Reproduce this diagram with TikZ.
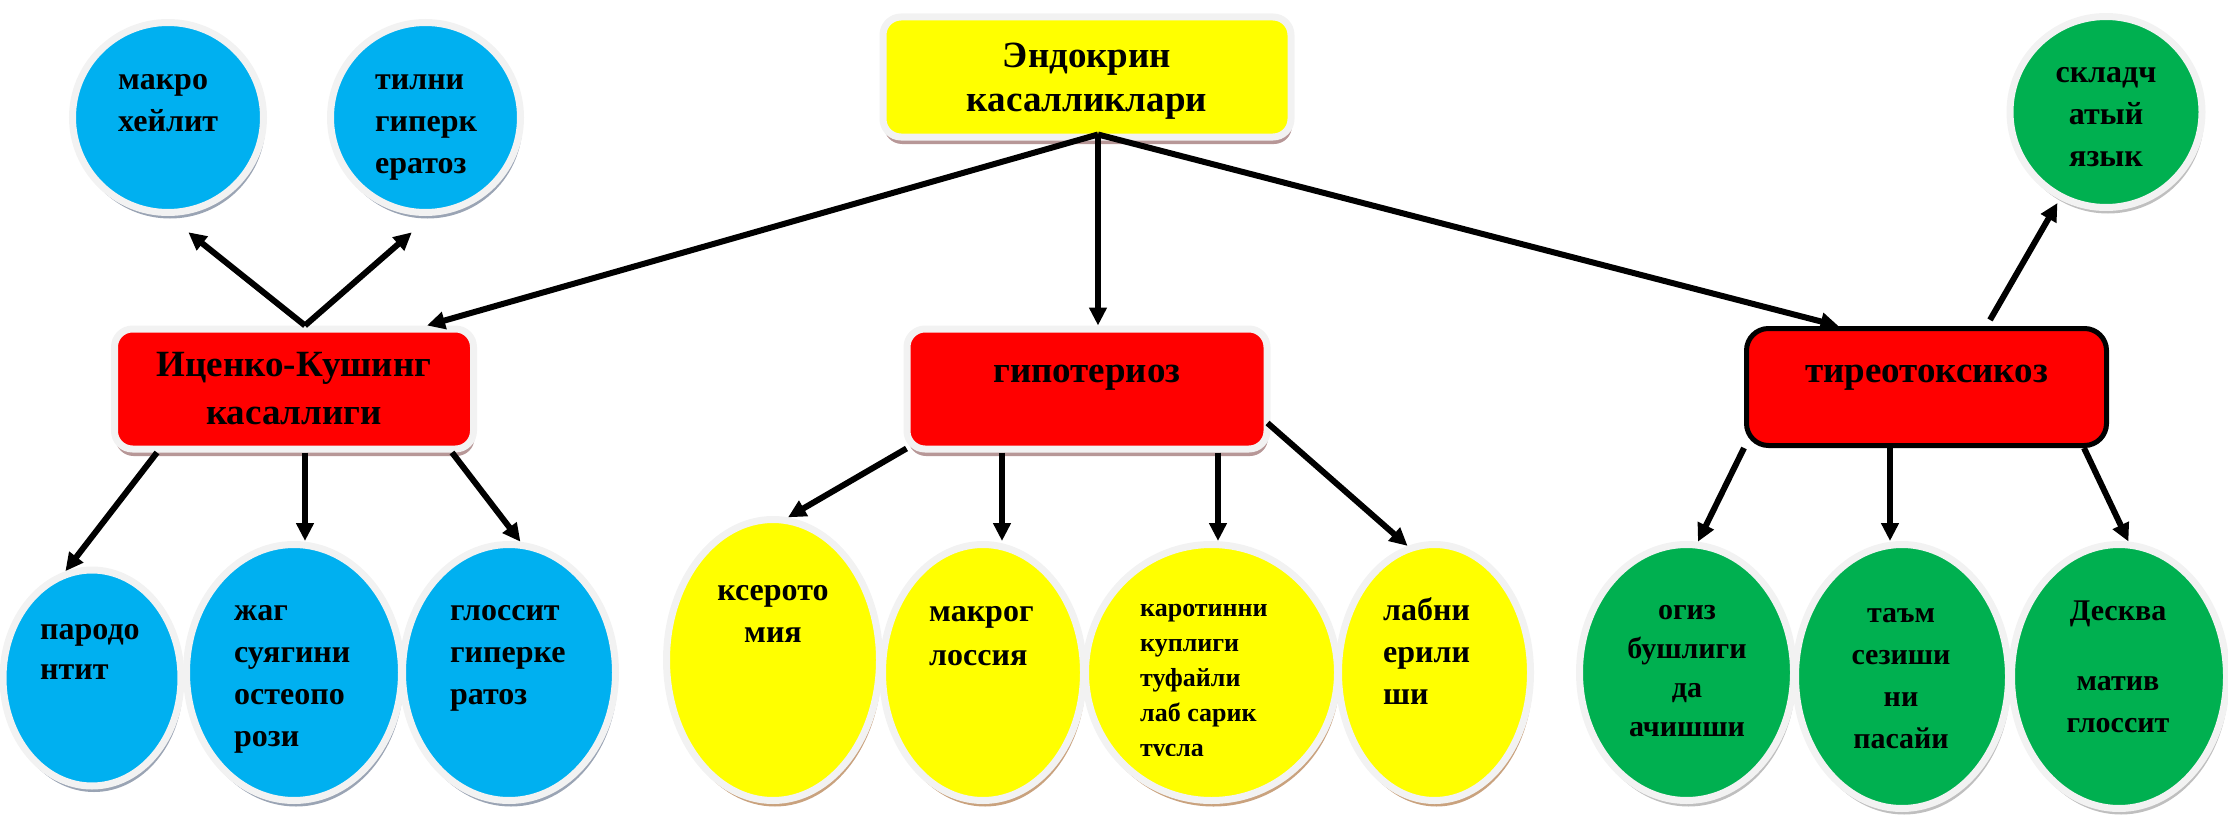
\documentclass[tikz,border=0pt]{standalone}
\usepackage{fontspec}
\setmainfont{Liberation Serif}
\usetikzlibrary{shapes.geometric, arrows.meta, shadows, calc}
\definecolor{skyblue}{HTML}{00B0F0}
\definecolor{lemon}{HTML}{FFFF00}
\definecolor{boxred}{HTML}{FF0000}
\definecolor{leaf}{HTML}{00B050}
\definecolor{ringgray}{HTML}{F2F2F2}
\definecolor{shblue}{HTML}{9AA4B4}
\definecolor{shtan}{HTML}{C9A27E}
\definecolor{shrose}{HTML}{B79797}
\definecolor{shgray}{HTML}{BFBFBF}

\begin{document}
\begin{tikzpicture}[x=1pt,y=-1pt,
	ring/.style={draw=ringgray,line width=7pt},
	blob/.style 2 args={ellipse,ring,inner sep=0pt,fill=#1,
		drop shadow={shadow xshift=2pt,shadow yshift=-6pt,fill=#2,opacity=1}},
	blue blob/.style={blob={skyblue}{shblue}},
	yellow blob/.style={blob={lemon}{shtan}},
	green blob/.style={blob={leaf}{shgray}},
	dims/.style 2 args={minimum width=#1pt,minimum height=#2pt},
	boxnode/.style={rectangle,rounded corners=18pt,ring,fill=boxred,align=center,inner sep=0pt,
		font=\bfseries\fontsize{37}{48}\selectfont,
		drop shadow={shadow xshift=1pt,shadow yshift=-7pt,fill=shrose,opacity=1}},
	lbl/.style={inner sep=0pt,align=left,anchor=north west,
		font=\bfseries\fontsize{32}{42}\selectfont},
	lblc/.style={lbl,align=center,anchor=north},
	arr/.style={line width=6pt,-{Triangle[length=18pt,width=17pt]}}]
	\useasboundingbox (0,0) rectangle (2228,816);

	\node[boxnode,fill=lemon,dims={408}{120},font=\bfseries\fontsize{37}{44}\selectfont,text height=76pt] (endo) at (1087,77) {Эндокрин\\касалликлари};
	\node[boxnode,dims={359}{120}] (icenko) at (294,389) {Иценко-Кушинг\\касаллиги};
	\node[boxnode,dims={360}{120},text height=17pt,text depth=30pt] (hypo) at (1087,389) {гипотериоз};
	\node[rectangle,rounded corners=22pt,draw=black,line width=5pt,fill=boxred,dims={360}{117},inner sep=0pt,
		font=\bfseries\fontsize{37}{48}\selectfont,text height=17pt,text depth=26pt] (tireo) at (1926.5,387) {тиреотоксикоз};

	\node[blue blob,dims={191}{190}] (makro) at (168,117.5) {};
	\node[lbl] (makro-t) at (118,59.9) {\strut макро\\хейлит};
	\node[blue blob,dims={190}{190}] (tilni) at (425.5,117.5) {};
	\node[lbl] (tilni-t) at (375,59.9) {\strut тилни\\гиперк\\ератоз};
	\node[green blob,dims={192}{191}] (skl) at (2106,112) {};
	\node[lblc] (skl-t) at (2106,52.9) {\strut складч\\атый\\язык};

	\node[blue blob,dims={178}{216}] (parod) at (92,678) {};
	\node[lbl,font=\bfseries\fontsize{32}{40}\selectfont] (parod-t) at (40,611.5) {\strut пародо\\нтит};
	\node[blue blob,dims={215}{256}] (zhag) at (294,672.5) {};
	\node[lbl] (zhag-t) at (234,590.9) {\strut жаг\\суягини\\остеопо\\рози};
	\node[blue blob,dims={213}{256}] (gloss) at (509,672.5) {};
	\node[lbl] (gloss-t) at (450,590.9) {\strut глоссит\\гиперке\\ратоз};

	\node[yellow blob,dims={213}{281}] (kser) at (773,660) {};
	\node[lblc] (kser-t) at (773,570.9) {\strut ксерото\\мия};
	\node[yellow blob,dims={201}{256}] (makrog) at (983,672.5) {};
	\node[lbl,font=\bfseries\fontsize{32}{44}\selectfont] (makrog-t) at (929,590.2) {\strut макрог\\лоссия};
	\node[yellow blob,dims={252}{256}] (karot) at (1211.5,672.5) {};
	\begin{scope}
		\clip (1089,540) rectangle (1334,755);
		\node[lbl,font=\bfseries\fontsize{26}{35}\selectfont] (karot-t) at (1140,591.4) {\strut каротинни\\куплиги\\туфайли\\лаб сарик\\тусла};
	\end{scope}
	\node[yellow blob,dims={192}{256}] (labni) at (1434.5,672.5) {};
	\node[lbl] (labni-t) at (1383,590.9) {\strut лабни\\ерили\\ши};

	\node[green blob,dims={214}{256}] (ogiz) at (1686.5,672.5) {};
	\node[lblc,font=\bfseries\fontsize{30}{39}\selectfont] (ogiz-t) at (1687,591.6) {\strut огиз\\бушлиги\\да\\ачишши};
	\node[green blob,dims={213}{264}] (taam) at (1902,676.5) {};
	\node[lblc,font=\bfseries\fontsize{30}{42}\selectfont] (taam-t) at (1901,592.5) {\strut таъм\\сезиши\\ни\\пасайи};
	\node[green blob,dims={215}{264}] (desk) at (2119,676.5) {};
	\node[lblc,font=\bfseries\fontsize{30}{42}\selectfont] (desk-t) at (2118,590.5) {\strut Десква\\[28pt]матив\\глоссит};

	\coordinate (hub) at ([xshift=11pt,yshift=6pt]endo.south);
	\draw[arr] (hub) -- ([xshift=133pt]icenko.north);
	\draw[arr] (hub) -- ([xshift=11pt]hypo.north);
	\draw[arr] (hub) -- ([xshift=-88pt]tireo.north);

	\draw[arr,shorten >=26pt] ([xshift=11pt]icenko.north) -- (makro.south);
	\draw[arr,shorten >=25pt] ([xshift=11pt]icenko.north) -- (tilni.-87);
	\draw[arr] ([xshift=-137pt]icenko.south) -- (parod.104);
	\draw[arr] ([xshift=11pt]icenko.south) -- ([xshift=11pt]zhag.north);
	\draw[arr] ([xshift=158pt]icenko.south) -- (gloss.85);

	\draw[arr] ([xshift=3pt,yshift=4pt]hypo.south west) -- (kser.84);
	\draw[arr] ([xshift=-85pt]hypo.south) -- ([xshift=19pt]makrog.north);
	\draw[arr] ([xshift=131pt]hypo.south) -- ([xshift=6.5pt]karot.north);
	\draw[arr] ([xshift=-3pt,yshift=-34pt]hypo.east) -- (labni.102);

	\draw[arr,shorten <=7pt,shorten >=4pt] ([xshift=60pt]tireo.north) -- (skl.-118);
	\draw[arr] (tireo.south west) -- (ogiz.85);
	\draw[arr] ([xshift=-36.5pt]tireo.south) -- ([xshift=-12pt]taam.north);
	\draw[arr] ([xshift=157.5pt]tireo.south) -- (desk.86);
\end{tikzpicture}
\end{document}
